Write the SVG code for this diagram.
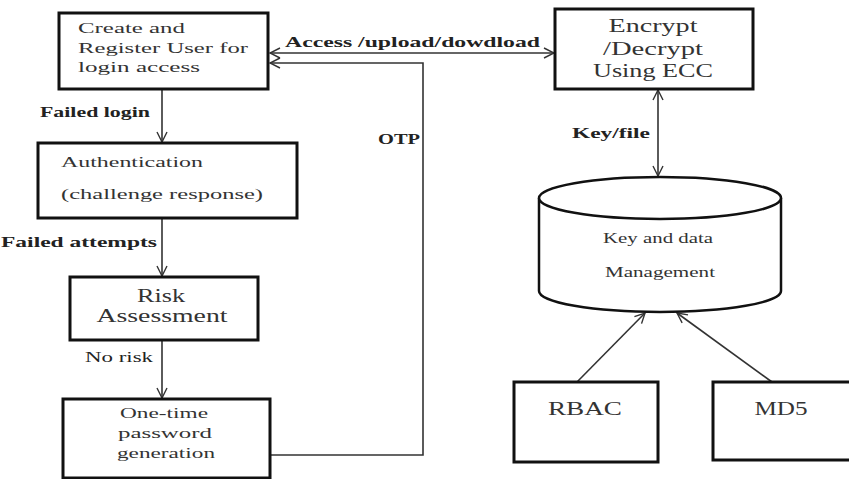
<svg xmlns="http://www.w3.org/2000/svg" width="849" height="479" viewBox="0 0 849 479">
<defs>
<style>
.box{fill:#fff;stroke:#111;stroke-width:3}
.cyl{fill:#fff;stroke:#111;stroke-width:2.5}
.con{fill:none;stroke:#333;stroke-width:1.6}
text{font-family:'Liberation Serif','DejaVu Serif','Times New Roman',serif}
.t{fill:#333;font-size:15px}
.tb{fill:#333;font-size:19px}
.lbl{fill:#222;font-size:14px;font-weight:bold}
</style>
<marker id="ah" viewBox="0 0 12 12" refX="11" refY="6" markerWidth="12" markerHeight="12" markerUnits="userSpaceOnUse" orient="auto-start-reverse">
<path d="M1,1 L11,6 L1,11" fill="none" stroke="#333" stroke-width="1.4"/>
</marker>
</defs>
<rect width="849" height="479" fill="#fff"/>
<g id="connectors">
<line class="con" x1="162" y1="89" x2="162" y2="142" marker-end="url(#ah)"/>
<line class="con" x1="162" y1="218" x2="162" y2="276" marker-end="url(#ah)"/>
<line class="con" x1="162" y1="340" x2="162" y2="398" marker-end="url(#ah)"/>
<polyline class="con" points="270,455 423,455 423,63 270,63" marker-end="url(#ah)"/>
<line class="con" x1="270" y1="53" x2="554" y2="53" marker-start="url(#ah)" marker-end="url(#ah)"/>
<line class="con" x1="658" y1="90" x2="658" y2="176" marker-start="url(#ah)" marker-end="url(#ah)"/>
<line class="con" x1="577" y1="382" x2="645" y2="313" marker-end="url(#ah)"/>
<line class="con" x1="772" y1="382" x2="677" y2="313" marker-end="url(#ah)"/>
<text class="lbl" font-family="Liberation Serif, serif" x="285" y="47" textLength="255" lengthAdjust="spacingAndGlyphs">Access /upload/dowdload</text>
<text class="lbl" font-family="Liberation Serif, serif" x="40" y="117" textLength="110" lengthAdjust="spacingAndGlyphs">Failed login</text>
<text class="lbl" font-family="Liberation Serif, serif" x="1" y="247" textLength="156" lengthAdjust="spacingAndGlyphs">Failed attempts</text>
<text class="lbl" font-family="Liberation Serif, serif" x="85" y="362" textLength="68" lengthAdjust="spacingAndGlyphs" style="font-weight:normal">No risk</text>
<text class="lbl" font-family="Liberation Serif, serif" x="378" y="144" textLength="42" lengthAdjust="spacingAndGlyphs">OTP</text>
<text class="lbl" font-family="Liberation Serif, serif" x="572" y="138" textLength="78" lengthAdjust="spacingAndGlyphs">Key/file</text>
</g>
<g id="register" font-family="Liberation Serif, serif">
<rect class="box" x="59" y="13" width="209" height="76"/>
<text class="t" x="78" y="33" textLength="107" lengthAdjust="spacingAndGlyphs">Create and</text>
<text class="t" x="78" y="53" textLength="170" lengthAdjust="spacingAndGlyphs">Register User for</text>
<text class="t" x="78" y="72" textLength="122" lengthAdjust="spacingAndGlyphs">login access</text>
</g>
<g id="authentication">
<rect class="box" x="38" y="143" width="259" height="75"/>
<text class="t" x="61" y="167" textLength="142" lengthAdjust="spacingAndGlyphs">Authentication</text>
<text class="t" x="61" y="199" textLength="202" lengthAdjust="spacingAndGlyphs">(challenge  response)</text>
</g>
<g id="risk">
<rect class="box" x="70" y="277" width="188" height="63"/>
<text class="tb" x="161" y="302" text-anchor="middle" textLength="48" lengthAdjust="spacingAndGlyphs">Risk</text>
<text class="tb" x="162" y="322" text-anchor="middle" textLength="131" lengthAdjust="spacingAndGlyphs">Assessment</text>
</g>
<g id="otp">
<rect class="box" x="63" y="399" width="207" height="79"/>
<text class="t" x="164" y="418" text-anchor="middle" textLength="88" lengthAdjust="spacingAndGlyphs">One-time</text>
<text class="t" x="165" y="438" text-anchor="middle" textLength="94" lengthAdjust="spacingAndGlyphs">password</text>
<text class="t" x="166" y="458" text-anchor="middle" textLength="98" lengthAdjust="spacingAndGlyphs">generation</text>
</g>
<g id="encrypt">
<rect class="box" x="555" y="9" width="198" height="80"/>
<text class="tb" x="653" y="32" text-anchor="middle" textLength="89" lengthAdjust="spacingAndGlyphs">Encrypt</text>
<text class="tb" x="653" y="55" text-anchor="middle" textLength="100" lengthAdjust="spacingAndGlyphs">/Decrypt</text>
<text class="tb" x="653" y="77" text-anchor="middle" textLength="120" lengthAdjust="spacingAndGlyphs">Using ECC</text>
</g>
<g id="keydata">
<path class="cyl" d="M539,198 L539,291 A121,21 0 0 0 781,291 L781,198"/>
<ellipse class="cyl" cx="660" cy="198" rx="121" ry="21"/>
<text class="t" x="658" y="243" text-anchor="middle" font-size="14" textLength="110" lengthAdjust="spacingAndGlyphs">Key and data</text>
<text class="t" x="660" y="277" text-anchor="middle" font-size="14" textLength="110" lengthAdjust="spacingAndGlyphs">Management</text>
</g>
<g id="rbac">
<rect class="box" x="514" y="382" width="144" height="80"/>
<text class="tb" x="585" y="415" text-anchor="middle" textLength="74" lengthAdjust="spacingAndGlyphs">RBAC</text>
</g>
<g id="md5">
<rect class="box" x="713" y="382" width="142" height="78"/>
<text class="tb" x="781" y="415" text-anchor="middle" textLength="53" lengthAdjust="spacingAndGlyphs">MD5</text>
</g>
</svg>
